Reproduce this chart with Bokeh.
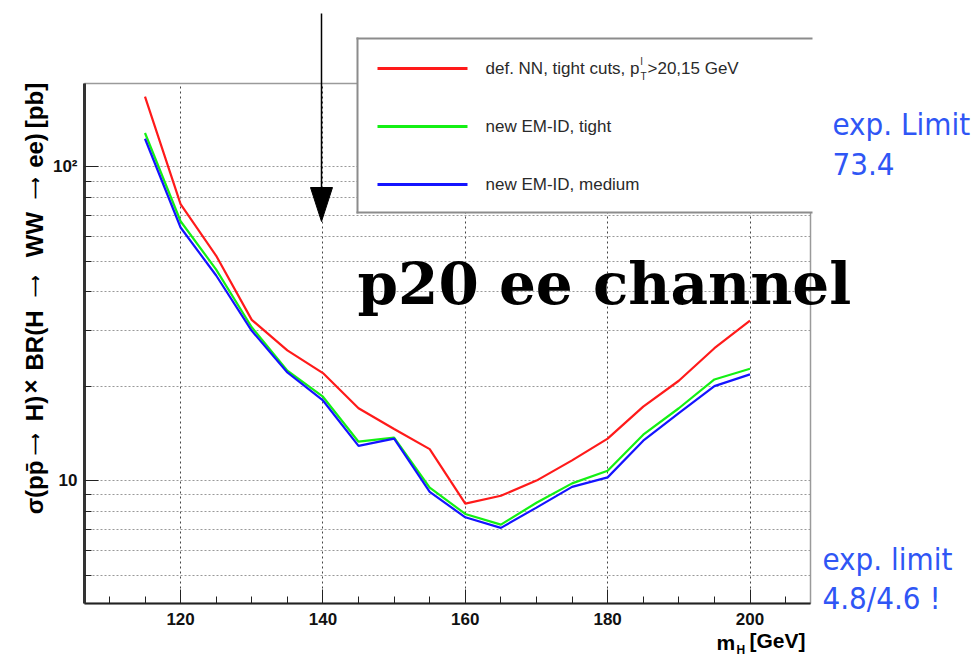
from math import pi

from bokeh.core.properties import value
from bokeh.embed import file_html
from bokeh.models import FixedTicker, GridBox, Range1d
from bokeh.plotting import figure
from bokeh.resources import INLINE

# Expected 95% CL limits on sigma x BR(H -> WW -> ee) [pb] vs Higgs mass
mass = [115, 120, 125, 130, 135, 140, 145, 150, 155, 160,
        165, 170, 175, 180, 185, 190, 195, 200]
limit_nn_tight = [167, 76, 52, 32.5, 26, 22, 17.0, 14.6, 12.6, 8.45,
                  8.95, 10.0, 11.6, 13.6, 17.2, 20.8, 26.4, 32.3]
limit_emid_tight = [128, 67, 47, 30.8, 22.4, 18.5, 13.3, 13.7, 9.5, 7.83,
                    7.24, 8.5, 9.8, 10.75, 14.0, 17.0, 21.0, 22.7]
limit_emid_medium = [122.7, 64, 45, 30.0, 22.1, 18.0, 12.9, 13.6, 9.2, 7.64,
                     7.07, 8.2, 9.55, 10.24, 13.4, 16.4, 20.0, 21.8]

series_values = [limit_nn_tight, limit_emid_tight, limit_emid_medium]
series_labels = ["def. NN, tight cuts, p", "new EM-ID, tight", "new EM-ID, medium"]
series_colors = ["#ff1a1a", "#14f014", "#1414ff"]

x_major = [120, 140, 160, 180, 200]
x_minor = [110, 115, 125, 130, 135, 145, 150, 155, 165, 170, 175, 185, 190, 195, 205]
y_major = [10, 100]
y_minor = [4, 5, 6, 7, 8, 9, 20, 30, 40, 50, 60, 70, 80, 90]
y_tick_text = {10: "10", 100: "10²"}

# y-axis title, split into pieces (read bottom to top)
y_title_parts = ["σ(pp̄", "⟶", "H)", "×", "BR(H", "⟶", "WW", "⟶", "ee)", "[pb]"]
y_title_centres = [487, 443, 408, 386, 340, 285, 234, 187, 150, 105]

# canvas geometry (frame edges in canvas pixels)
W, H = 972, 659
FL, FR, FT, FB = 84, 810, 83, 603

# ---------------------------------------------------------------- main plot
p = figure(width=W, height=H, x_range=Range1d(106.5, 208.5),
           y_range=Range1d(4.06, 184), y_axis_type="log",
           output_backend="svg", toolbar_location=None,
           min_border_left=FL, min_border_right=W - FR,
           min_border_top=FT, min_border_bottom=H - FB)
p.frame_align = False
p.background_fill_color = "white"
p.border_fill_color = "white"
p.outline_line_color = "#9a9a9a"
p.outline_line_width = 1.5

p.xaxis.ticker = FixedTicker(ticks=x_major, minor_ticks=x_minor)
p.yaxis.ticker = FixedTicker(ticks=y_major, minor_ticks=y_minor)
p.yaxis.major_label_overrides = y_tick_text
for ax in (p.xaxis, p.yaxis):
    ax.major_tick_out = 0
    ax.major_tick_in = 14
    ax.minor_tick_out = 0
    ax.minor_tick_in = 7
    ax.major_tick_line_color = "#222222"
    ax.minor_tick_line_color = "#222222"
    ax.major_label_text_font = "Liberation Sans"
    ax.major_label_text_font_style = "bold"
    ax.major_label_text_font_size = "17px"
    ax.major_label_text_color = "#111111"
    ax.major_label_standoff = 7
p.xaxis.major_label_standoff = 9
p.yaxis.axis_line_color = "#333333"
p.yaxis.axis_line_width = 3
p.xaxis.axis_line_color = "#222222"
p.xaxis.axis_line_width = 2

p.xgrid.ticker = FixedTicker(ticks=x_major)
p.xgrid.grid_line_color = "#444444"
p.xgrid.grid_line_dash = "2 3"
p.ygrid.grid_line_color = "#999999"
p.ygrid.grid_line_dash = "2 2"
p.ygrid.minor_grid_line_color = "#999999"
p.ygrid.minor_grid_line_dash = "2 2"

for vals, col in zip(series_values, series_colors):
    p.line(mass, vals, line_color=col, line_width=2.2)

# ------------------------------------------- overlay in canvas pixels (y down)
ov = figure(width=W, height=H, x_range=Range1d(0, W), y_range=Range1d(H, 0),
            output_backend="svg", toolbar_location=None,
            x_axis_location=None, y_axis_location=None,
            min_border_left=0, min_border_right=0,
            min_border_top=0, min_border_bottom=0)
ov.frame_align = False
ov.outline_line_color = None
ov.background_fill_alpha = 0
ov.border_fill_alpha = 0
ov.grid.visible = False


def txt(x, y, text, size, color="black", font="Liberation Sans",
        style="normal", align="left", angle=0):
    ov.text(x=[x], y=[y], text=[text], text_font=value(font),
            text_font_size=value(f"{size}px"), text_font_style=style,
            text_color=color, text_align=align, text_baseline="middle",
            angle=angle)


# legend panel, running off the right edge of the frame
ov.quad(left=[357], right=[FR + 2], top=[38], bottom=[212],
        fill_color="white", line_color=None)
ov.quad(left=[356, 356, 356], right=[358, FR + 2, FR + 2],
        top=[37, 37, 211], bottom=[213, 39, 213],
        fill_color="#8c8c8c", line_color=None)
legend_y = [68, 126, 184]
for yc, lab, col in zip(legend_y, series_labels, series_colors):
    ov.line(x=[377, 467], y=[yc, yc], line_color=col, line_width=3)
    txt(485, yc, lab, 17, color="#2a2a2a")
txt(640, 61, "l", 10, color="#2a2a2a")
txt(640, 76, "T", 10, color="#2a2a2a")
txt(647, 68, ">20,15 GeV", 17, color="#2a2a2a")

# axis titles
for part, yc in zip(y_title_parts, y_title_centres):
    size, xc = 24, 34
    if part == "⟶":
        size = 15
    elif part == "×":
        xc = 30
    txt(xc, yc, part, size, style="bold", align="center", angle=pi / 2)
txt(716, 642, "m", 21, style="bold")
txt(736, 649, "H", 12, style="bold")
txt(749, 640, "[GeV]", 21, style="bold")

# arrow marking 140 GeV
ov.line(x=[321, 321], y=[13, 195], line_color="black", line_width=1.5)
ov.patch(x=[310, 332, 321], y=[187, 187, 221], fill_color="black",
         line_color="black")

# channel title
txt(357, 283, "p20 ee channel", 58, font="DejaVu Serif", style="bold")

# expected limit notes
blue = "#2f56f5"
cond = "DejaVu Sans Condensed, DejaVu Sans"
txt(832, 123, "exp. Limit", 31, color=blue, font=cond)
txt(832, 163, "73.4", 31, color=blue, font=cond)
txt(822, 558, "exp. limit", 31, color=blue, font=cond)
txt(822, 597, "4.8/4.6 !", 31, color=blue, font=cond)

page = GridBox(children=[(p, 0, 0), (ov, 0, 0)], width=W, height=H)
open("out.html", "w").write(file_html(page, INLINE))
